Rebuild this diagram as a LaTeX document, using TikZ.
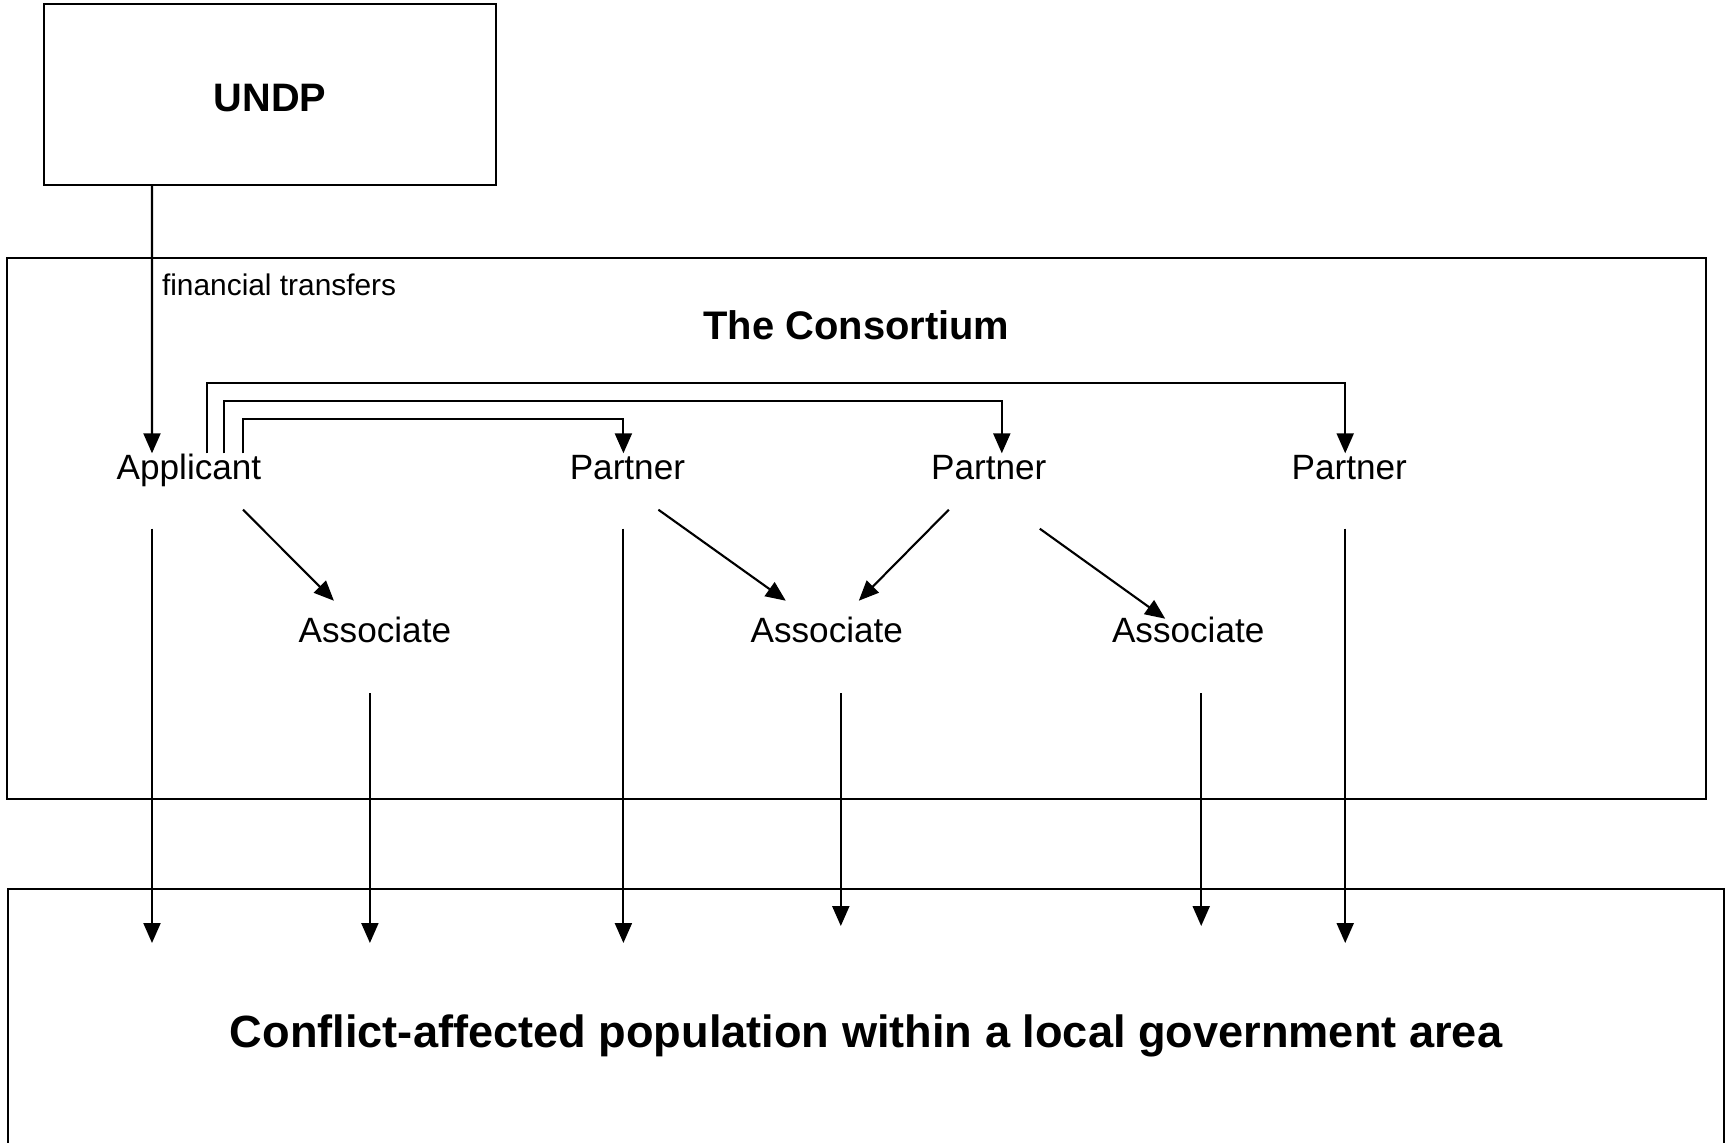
\documentclass[tikz,border=0pt]{standalone}
\usepackage{fontspec}
\setmainfont{Liberation Sans}
\usetikzlibrary{positioning, arrows.meta}

\begin{document}
\begin{tikzpicture}[
    node distance=1cm and 1cm, % Standard separation
    % --- MINIMALIST STYLES ---
    panel/.style={rectangle, draw, line width=0.6pt, fill=white, align=center},
    donor/.style={panel, minimum width=4.52cm, minimum height=1.81cm, text height=0.33cm, text depth=0cm, font=\bfseries\fontsize{11.3}{13}\selectfont}, % Funding body
    heading/.style={inner sep=0pt, font=\bfseries\fontsize{11.35}{13}\selectfont}, % Consortium title
    actor/.style={inner sep=0pt, minimum width=1.6cm, text height=0.25cm, text depth=0.07cm, font=\fontsize{10}{12}\selectfont}, % Member of the consortium
    target/.style={panel, minimum width=17.16cm, minimum height=2.93cm, font=\bfseries\fontsize{12.85}{15}\selectfont}, % Beneficiaries
    flow/.style={->, line width=0.6pt},
    >={Triangle[length=0.2cm, width=0.17cm]}
]
\useasboundingbox (0,0) rectangle (17.25,-11.42);

% --- 1. FUNDING SOURCE ---
\node (undp) [donor] at (2.70,-0.945) {UNDP};

% --- 2. CONSORTIUM FRAME ---
\node (consortium) [panel, minimum width=16.99cm, minimum height=5.41cm] at (8.565,-5.285) {};
\node (title) [heading, below=0.53cm of consortium.north] {The Consortium};

% --- 3. MEMBERS ---
\node (applicant) [actor] at (1.89,-4.70) {Applicant};
\node (partner1) [actor, right=2.77cm of applicant] {Partner};
\node (partner2) [actor, right=2.00cm of partner1] {Partner};
\node (partner3) [actor, right=1.99cm of partner2] {Partner};

\node (assoc1) [actor, below right=1.30cm and 0.245cm of applicant] {Associate};
\node (assoc2) [actor, below right=1.30cm and 0.38cm of partner1] {Associate};
\node (assoc3) [actor, below right=1.30cm and 0.38cm of partner2] {Associate};

% --- 4. TARGET GROUP ---
\node (population) [target] at (8.66,-10.355) {Conflict-affected population within a local government area};
\coordinate (reach) at (0,-9.43);
\coordinate (reachshort) at (0,-9.26);

% --- FLOWS ---

% 1. Money into the consortium
\draw [flow] ([xshift=-1.18cm]undp.south) -- ([xshift=-0.37cm]applicant.north)
    node[pos=0.41, anchor=base west, inner sep=0.09cm, font=\fontsize{8.5}{10}\selectfont] {financial transfers};

% 2. Applicant passes funds on to the partners
\draw [flow] ([xshift=0.18cm]applicant.north) |- ([xshift=-0.04cm, yshift=0.70cm]partner3.north) -- ([xshift=-0.04cm]partner3.north);
\draw [flow] ([xshift=0.35cm]applicant.north) |- ([xshift=0.13cm, yshift=0.52cm]partner2.north) -- ([xshift=0.13cm]partner2.north);
\draw [flow] ([xshift=0.54cm]applicant.north) |- ([xshift=-0.04cm, yshift=0.34cm]partner1.north) -- ([xshift=-0.04cm]partner1.north);

% 3. Members to associates
\draw [flow] ([xshift=0.54cm, yshift=-0.23cm]applicant.south) -- ([xshift=-0.41cm, yshift=0.16cm]assoc1.north);
\draw [flow] ([xshift=0.31cm, yshift=-0.23cm]partner1.south) -- ([xshift=-0.41cm, yshift=0.16cm]assoc2.north);
\draw [flow] ([xshift=-0.40cm, yshift=-0.23cm]partner2.south) -- ([xshift=0.32cm, yshift=0.16cm]assoc2.north);
\draw [flow] ([xshift=0.51cm, yshift=-0.42cm]partner2.south) -- ([xshift=-0.23cm, yshift=-0.02cm]assoc3.north);

% 4. Everyone delivers to the population
\draw [flow] ([xshift=-0.37cm, yshift=-0.42cm]applicant.south) -- ([xshift=-0.37cm]applicant.south |- reach);
\draw [flow] ([xshift=-0.05cm, yshift=-0.43cm]assoc1.south) -- ([xshift=-0.05cm]assoc1.south |- reach);
\draw [flow] ([xshift=-0.04cm, yshift=-0.42cm]partner1.south) -- ([xshift=-0.04cm]partner1.south |- reach);
\draw [flow] ([xshift=0.14cm, yshift=-0.43cm]assoc2.south) -- ([xshift=0.14cm]assoc2.south |- reachshort);
\draw [flow] ([xshift=0.13cm, yshift=-0.43cm]assoc3.south) -- ([xshift=0.13cm]assoc3.south |- reachshort);
\draw [flow] ([xshift=-0.04cm, yshift=-0.42cm]partner3.south) -- ([xshift=-0.04cm]partner3.south |- reach);

\end{tikzpicture}
\end{document}
